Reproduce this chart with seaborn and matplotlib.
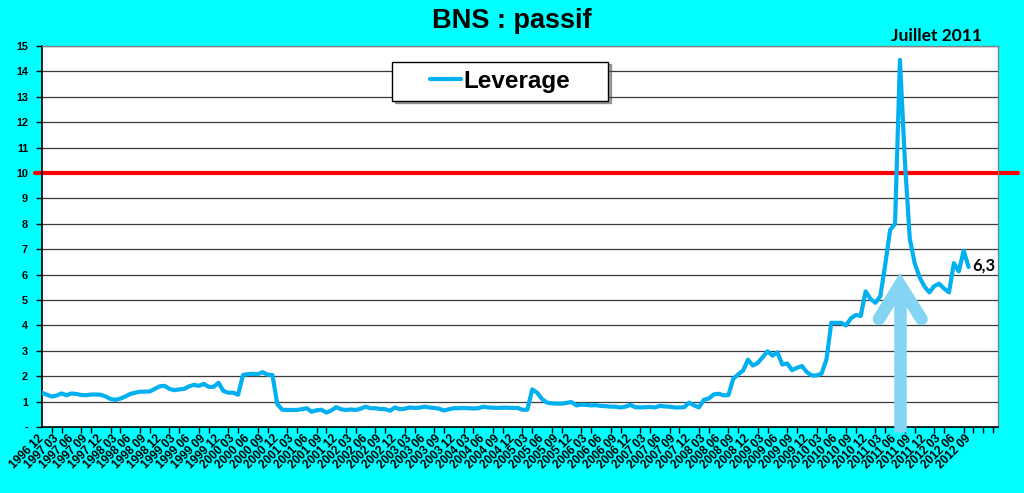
"""BNS : passif - leverage mensuel 1996 12 -> 2012 09 (fond cyan, style Excel)."""

import matplotlib

matplotlib.use("Agg")
import matplotlib.pyplot as plt
import numpy as np
import seaborn as sns
from matplotlib.path import Path

# --- données -------------------------------------------------------------
leverage = [
    1.35, 1.27, 1.20, 1.24, 1.32, 1.25, 1.32, 1.30, 1.26, 1.25,
    1.28, 1.28, 1.27, 1.20, 1.10, 1.07, 1.12, 1.20, 1.30, 1.35,
    1.39, 1.39, 1.40, 1.50, 1.60, 1.62, 1.50, 1.45, 1.48, 1.50,
    1.60, 1.66, 1.62, 1.70, 1.58, 1.58, 1.74, 1.42, 1.35, 1.35,
    1.27, 2.05, 2.08, 2.09, 2.08, 2.16, 2.06, 2.05, 0.90, 0.68,
    0.67, 0.67, 0.67, 0.70, 0.74, 0.60, 0.66, 0.68, 0.57, 0.65,
    0.78, 0.70, 0.67, 0.69, 0.67, 0.72, 0.80, 0.74, 0.74, 0.71,
    0.70, 0.64, 0.77, 0.70, 0.72, 0.77, 0.75, 0.76, 0.80, 0.77,
    0.75, 0.72, 0.65, 0.70, 0.74, 0.74, 0.75, 0.74, 0.73, 0.74,
    0.80, 0.77, 0.76, 0.75, 0.76, 0.76, 0.75, 0.75, 0.68, 0.68,
    1.48, 1.35, 1.10, 0.96, 0.93, 0.92, 0.92, 0.95, 0.98, 0.85,
    0.88, 0.87, 0.85, 0.86, 0.83, 0.82, 0.80, 0.80, 0.77, 0.80,
    0.87, 0.78, 0.77, 0.78, 0.79, 0.77, 0.83, 0.81, 0.80, 0.77,
    0.77, 0.78, 0.96, 0.85, 0.77, 1.07, 1.12, 1.28, 1.31, 1.25,
    1.25, 1.90, 2.07, 2.22, 2.65, 2.42, 2.52, 2.75, 2.98, 2.81,
    2.94, 2.46, 2.50, 2.24, 2.33, 2.40, 2.16, 2.03, 2.03, 2.10,
    2.65, 4.10, 4.10, 4.10, 4.00, 4.28, 4.41, 4.37, 5.34, 5.04,
    4.89, 5.15, 6.40, 7.76, 8.00, 14.45, 10.50, 7.43, 6.45, 5.90,
    5.53, 5.30, 5.55, 5.64, 5.45, 5.30, 6.45, 6.13, 6.94, 6.30,
]
start_year, start_month = 1996, 12
n_categories = 196          # l'axe va jusqu'à 2013 03, données jusqu'à 2012 09
seuil = 10
peak_label = "Juillet 2011"
last_label = "6,3"
yticks = list(range(0, 16))
ytick_labels = ["-"] + [str(v) for v in range(1, 16)]

months = np.arange(len(leverage))
labels = []
for k in range(0, len(leverage), 3):
    m = start_month - 1 + k
    labels.append(f"{start_year + m // 12} {m % 12 + 1:02d}")


class WideBox:
    """Cadre de légende élargi horizontalement (comme dans Excel)."""

    def __init__(self, padx):
        self.padx = padx

    def __call__(self, x0, y0, width, height, mutation_size):
        px = self.padx * mutation_size
        x0, x1 = x0 - px, x0 + width + px
        y1 = y0 + height
        return Path([(x0, y0), (x1, y0), (x1, y1), (x0, y1), (x0, y0)],
                    closed=True)


# --- style ---------------------------------------------------------------
sns.set_style("white")
plt.rcParams["font.family"] = ["Liberation Sans", "DejaVu Sans"]
plt.rcParams["font.weight"] = "bold"
plt.rcParams["text.color"] = "black"
plt.rcParams["xtick.color"] = "black"
plt.rcParams["ytick.color"] = "black"

line_color = "#00B0F0"
arrow_color = "#84D4F4"
bg = "#00FFFF"

fig = plt.figure(figsize=(10.24, 4.93), dpi=100, facecolor=bg)
ax = fig.add_axes([42 / 1024, 1 - 427 / 493, 956 / 1024, 381 / 493])
ax.set_facecolor("white")

# grille horizontale
for v in yticks[1:]:
    ax.axhline(v, color="#3a3a3a", lw=0.9, zorder=1)

# seuil rouge qui déborde de la zone de tracé
ax.plot([-0.007, 1.021], [seuil, seuil], color="#FF0000", lw=3.0,
        transform=ax.get_yaxis_transform(), clip_on=False, zorder=2)

sns.lineplot(x=months, y=leverage, ax=ax, color=line_color, lw=3.0,
             label="Leverage", zorder=4)

# flèche bleu clair sous le pic
peak_i = int(np.argmax(leverage))
ax.plot([peak_i, peak_i], [-0.2, 5.6], color=arrow_color, lw=9,
        solid_capstyle="butt", zorder=3, clip_on=False)
ax.plot([peak_i - 4.3, peak_i, peak_i + 4.4], [4.25, 5.6, 4.25],
        color=arrow_color, lw=9, solid_capstyle="round",
        solid_joinstyle="miter", zorder=3)

# annotations
ax.text(peak_i + 7.5, 15.08, peak_label, ha="center", va="bottom",
        fontsize=12.5, fontweight="bold", family=["Lato", "DejaVu Sans"],
        clip_on=False)
ax.text(len(leverage) - 0.2, leverage[-1] + 0.05, last_label, ha="left",
        va="center", fontsize=12, fontweight="bold",
        family=["Lato", "DejaVu Sans"])

fig.text(0.5, 1 - 21 / 493, "BNS : passif", ha="center", va="center",
         fontsize=19.5, fontweight="bold")

# axes
ax.set_xlim(0, n_categories - 1)
ax.set_ylim(0, 15)
ax.set_yticks(yticks)
ax.set_yticklabels(ytick_labels, fontsize=7.8, fontweight="bold")
ax.set_xticks(range(0, len(leverage), 3))
ax.set_xticklabels(labels, rotation=45, ha="right", va="center",
                   rotation_mode="anchor", fontsize=8.5, fontweight="bold")
ax.set_xticks(range(0, n_categories, 2), minor=True)
ax.tick_params(axis="x", which="major", length=0, pad=7)
ax.tick_params(axis="x", which="minor", length=4, width=1, color="black",
               direction="out", bottom=True)
ax.tick_params(axis="y", length=4, width=1, color="black", direction="out",
               left=True, pad=6)
ax.set_xlabel("")
ax.set_ylabel("")

for side in ("top", "right"):
    ax.spines[side].set_color("#808080")
    ax.spines[side].set_linewidth(1)
for side in ("left", "bottom"):
    ax.spines[side].set_color("black")
    ax.spines[side].set_linewidth(1.2)

leg = ax.legend(loc="center", bbox_to_anchor=(0.479, 0.908), fontsize=17.5,
                handlelength=1.25, handletextpad=0.1, borderpad=0.33,
                frameon=True, fancybox=False, shadow=True, edgecolor="black")
leg.get_frame().set_boxstyle(WideBox(1.25))
leg.get_frame().set_linewidth(1.0)
for t in leg.get_texts():
    t.set_fontweight("bold")
for h in leg.get_lines():
    h.set_linewidth(3.0)

fig.savefig("out.png", dpi=100, facecolor=bg)
